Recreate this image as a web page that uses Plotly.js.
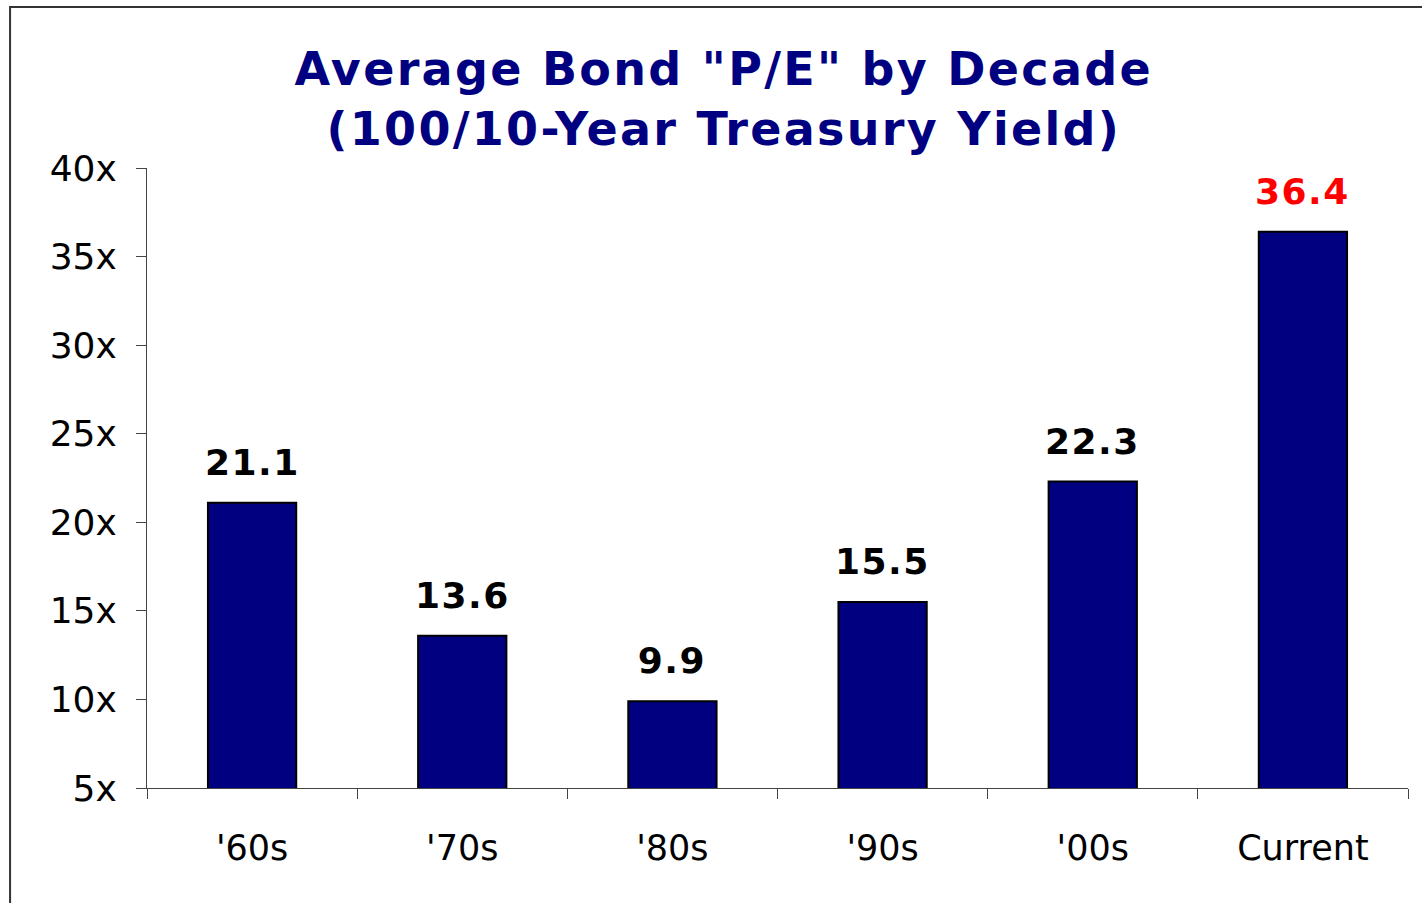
<!DOCTYPE html>
<html>
<head>
<meta charset="utf-8">
<script src="https://cdn.plot.ly/plotly-3.0.1.min.js"></script>
<style>
  html, body { margin: 0; padding: 0; background: #fff; }
  #plot { width: 1422px; height: 903px; }
  /* the original uses a wide Verdana-like face */
  #plot .gtitle { letter-spacing: 2.3px; }
  #plot .annotation-text { letter-spacing: 1.5px; }
</style>
</head>
<body>
<div id="plot"></div>
<script>
// Decades and average bond "P/E" (100 / 10-year Treasury yield)
let decades = ["'60s", "'70s", "'80s", "'90s", "'00s", "Current"];
let bondPE = [21.1, 13.6, 9.9, 15.5, 22.3, 36.4];
let labelColors = ["#000000", "#000000", "#000000", "#000000", "#000000", "#ff0000"];

let trace1 = {
    x: decades,
    y: bondPE,
    type: 'bar',
    marker: {
        color: '#000080',
        line: { color: '#000000', width: 2 },
    },
    hoverinfo: 'skip',
};

// Value labels above the bars
let labels = decades.map((d, i) => ({
    x: d,
    y: bondPE[i],
    xref: 'x',
    yref: 'y',
    text: bondPE[i].toFixed(1),
    showarrow: false,
    yanchor: 'bottom',
    yshift: 18,
    font: { family: 'DejaVu Sans', size: 36, color: labelColors[i], weight: 'bold' },
}));

let layout = {
    width: 1422,
    height: 903,
    margin: { l: 147, r: 14, t: 168, b: 115 },
    paper_bgcolor: '#ffffff',
    plot_bgcolor: '#ffffff',
    showlegend: false,
    bargap: 0.58,
    title: {
        text: 'Average Bond "P/E" by Decade<br>(100/10-Year Treasury Yield)',
        font: { family: 'DejaVu Sans', size: 46, color: '#000080', weight: 'bold' },
        xref: 'container',
        x: 0.509,
        xanchor: 'center',
        yref: 'container',
        y: 0.906,
        yanchor: 'top',
    },
    xaxis: {
        type: 'category',
        showline: true,
        linecolor: '#444',
        linewidth: 1,
        ticks: 'outside',
        tickson: 'boundaries',
        ticklen: 10,
        tickcolor: '#444',
        showgrid: false,
        zeroline: false,
        tickfont: { family: 'DejaVu Sans', size: 35, color: '#000' },
        ticklabelstandoff: 29,
        fixedrange: true,
    },
    yaxis: {
        range: [5, 40],
        dtick: 5,
        tick0: 5,
        ticksuffix: 'x',
        showline: true,
        linecolor: '#444',
        linewidth: 1,
        ticks: 'outside',
        ticklen: 10,
        tickcolor: '#444',
        showgrid: false,
        zeroline: false,
        tickfont: { family: 'DejaVu Sans', size: 36, color: '#000' },
        ticklabelstandoff: 12,
        fixedrange: true,
    },
    shapes: [{
        type: 'rect',
        xref: 'paper',
        yref: 'paper',
        x0: -0.1086,
        x1: 1.2,
        y0: -0.5,
        y1: 1.2597,
        line: { color: '#333', width: 2 },
        fillcolor: 'rgba(0,0,0,0)',
        layer: 'below',
    }],
    annotations: labels,
};

Plotly.newPlot("plot", [trace1], layout, { displayModeBar: false, staticPlot: true });
</script>
</body>
</html>
